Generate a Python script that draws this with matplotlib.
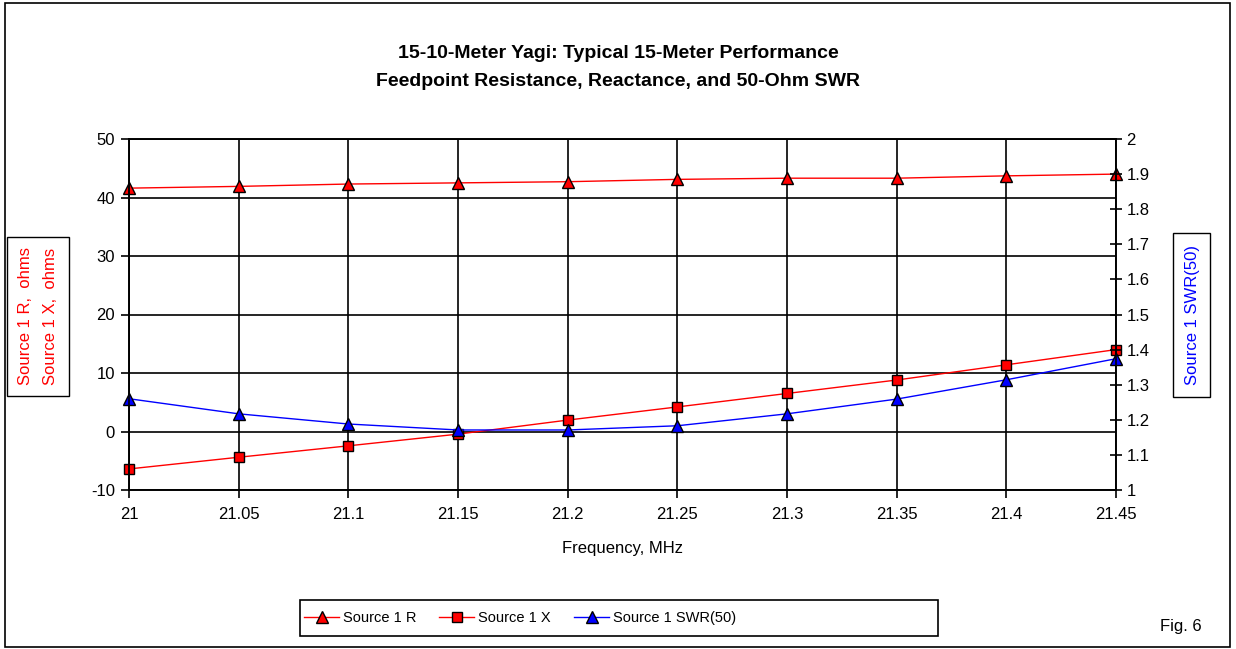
import matplotlib
matplotlib.use("Agg")
import matplotlib.pyplot as plt
from matplotlib.patches import Rectangle

plt.rcParams['font.family'] = ['Liberation Sans', 'DejaVu Sans']
plt.rcParams['axes.unicode_minus'] = False

freq = [21.0, 21.05, 21.1, 21.15, 21.2, 21.25, 21.3, 21.35, 21.4, 21.45]
src_r = [41.6, 41.9, 42.3, 42.5, 42.7, 43.1, 43.3, 43.3, 43.7, 44.0]
src_x = [-6.4, -4.4, -2.45, -0.45, 1.95, 4.2, 6.5, 8.8, 11.4, 14.0]
swr = [1.26, 1.217, 1.188, 1.171, 1.171, 1.183, 1.217, 1.259, 1.314, 1.374]
xtick_labels = ['21', '21.05', '21.1', '21.15', '21.2', '21.25', '21.3', '21.35', '21.4', '21.45']
left_ticks = [-10, 0, 10, 20, 30, 40, 50]
right_ticks = [1, 1.1, 1.2, 1.3, 1.4, 1.5, 1.6, 1.7, 1.8, 1.9, 2]
right_labels = ['1', '1.1', '1.2', '1.3', '1.4', '1.5', '1.6', '1.7', '1.8', '1.9', '2']

FS = 12
W, H = 1236, 649
fig = plt.figure(figsize=(W / 100, H / 100), dpi=100)
fig.patches.append(Rectangle((5 / W, 2 / H), 1 - 11 / W, 1 - 5 / H, transform=fig.transFigure,
                             fill=False, edgecolor='black', linewidth=1.2))

ax = fig.add_axes([129 / W, 1 - 490 / H, (1116 - 129) / W, (490 - 139) / H])
ax2 = ax.twinx()

ax.set_xlim(21.0, 21.45)
ax.set_ylim(-10, 50)
ax2.set_ylim(1, 2)

ax.set_xticks(freq)
ax.set_xticklabels(xtick_labels)
ax.set_yticks(left_ticks)
ax2.set_yticks(right_ticks)
ax2.set_yticklabels(right_labels)

ax.grid(True, color='black', linewidth=1.2)
ax.set_axisbelow(True)
for a in (ax, ax2):
    for s in a.spines.values():
        s.set_color('black')
        s.set_linewidth(1.2)
ax.tick_params(axis='both', labelsize=FS, length=6, width=1.2, direction='out', pad=4)
ax.tick_params(axis='x', pad=6)
ax2.tick_params(axis='y', labelsize=FS, length=9, width=1.2, direction='inout', pad=3)

l1, = ax.plot(freq, src_r, color='red', linewidth=1, marker='^', markersize=8,
              markerfacecolor='red', markeredgecolor='black', markeredgewidth=1, label='Source 1 R')
l2, = ax.plot(freq, src_x, color='red', linewidth=1, marker='s', markersize=7,
              markerfacecolor='red', markeredgecolor='black', markeredgewidth=1, label='Source 1 X')
l3, = ax2.plot(freq, swr, color='blue', linewidth=1, marker='^', markersize=8,
               markerfacecolor='blue', markeredgecolor='black', markeredgewidth=1, label='Source 1 SWR(50)')
for l in (l1, l2, l3):
    l.set_clip_on(False)

fig.text(0.5, 1 - 53 / H, '15-10-Meter Yagi: Typical 15-Meter Performance', ha='center', va='center',
         fontsize=14, fontweight='bold')
fig.text(0.5, 1 - 81 / H, 'Feedpoint Resistance, Reactance, and 50-Ohm SWR', ha='center', va='center',
         fontsize=14, fontweight='bold')

fig.text((129 + 1116) / 2 / W, 1 - 548 / H, 'Frequency, MHz', ha='center', va='center', fontsize=FS)

# left y-label box
fig.patches.append(Rectangle((7 / W, 1 - 396 / H), 62 / W, 159 / H, transform=fig.transFigure,
                             fill=False, edgecolor='black', linewidth=1))
fig.text(26 / W, 1 - 316 / H, 'Source 1 R,  ohms', rotation=90, ha='center', va='center',
         color='red', fontsize=FS)
fig.text(51 / W, 1 - 316 / H, 'Source 1 X,  ohms', rotation=90, ha='center', va='center',
         color='red', fontsize=FS)

# right y-label box
fig.patches.append(Rectangle((1173 / W, 1 - 397 / H), 37 / W, 164 / H, transform=fig.transFigure,
                             fill=False, edgecolor='black', linewidth=1))
fig.text(1192 / W, 1 - 315 / H, 'Source 1 SWR(50)', rotation=90, ha='center', va='center',
         color='blue', fontsize=FS)

# legend
fig.patches.append(Rectangle((300 / W, 1 - 636 / H), 638 / W, 36 / H, transform=fig.transFigure,
                             fill=False, edgecolor='black', linewidth=1.2))
leg = fig.legend(handles=[l1, l2, l3], loc='center left', bbox_to_anchor=(304 / W, 1 - 618 / H),
                 ncol=3, frameon=False, fontsize=10.5, handlelength=2.4,
                 columnspacing=1.6, handletextpad=0.25, borderpad=0.0, borderaxespad=0)

fig.text(1181 / W, 1 - 626 / H, 'Fig. 6', ha='center', va='center', fontsize=FS)

fig.savefig('out.png', dpi=100)
